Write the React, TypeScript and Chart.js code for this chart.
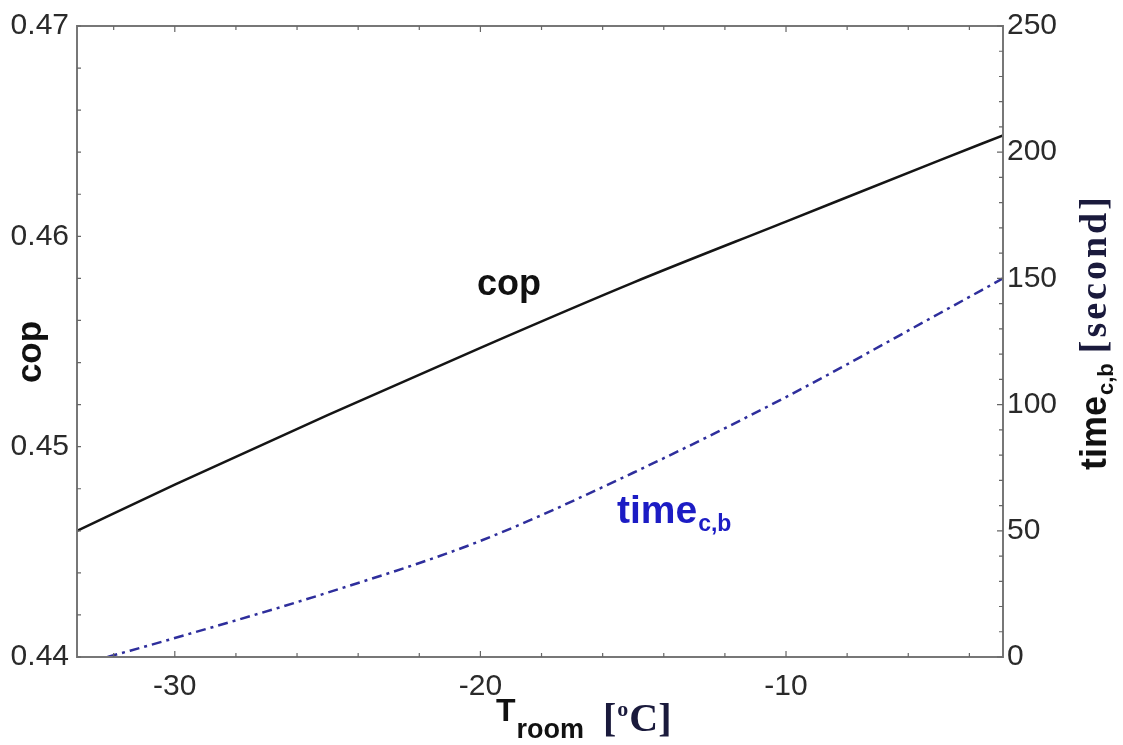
import React, { useEffect, useRef } from "react";
import { Chart, registerables } from "chart.js";

Chart.register(...registerables);

// ---- data ----
const copTemps = [-33.2, -30, -25, -20, -15, -10, -5, -2.9];
const copValues = [0.446, 0.4482, 0.4515, 0.4547, 0.4578, 0.4607, 0.4636, 0.4648];
const timeTemps = [-32.2, -30, -25, -20, -15, -10, -5, -2.9];
const timeValues = [0, 7.5, 25.5, 46, 73, 103, 136, 150];
const xTickValues = [-30, -20, -10];
const copTickValues = [0.44, 0.45, 0.46, 0.47];
const timeTickValues = [0, 50, 100, 150, 200, 250];

const X_MIN = -33.2;
const X_MAX = -2.9;

const SANS = '"Liberation Sans", Arial, sans-serif';
const SERIF = '"Liberation Serif", "Times New Roman", serif';

function range(a: number, b: number, step: number): number[] {
  const out: number[] = [];
  const n = Math.round((b - a) / step);
  for (let i = 0; i <= n; i++) out.push(a + i * step);
  return out;
}

const framePlugin = {
  id: "frameAndTitles",
  afterDatasetsDraw(chart: any) {
    const { ctx, chartArea: ca, scales } = chart;
    const sx = scales.x, sy = scales.y, sy2 = scales.y2;
    ctx.save();
    // frame
    ctx.strokeStyle = "#777";
    ctx.lineWidth = 2;
    ctx.strokeRect(ca.left, ca.top, ca.right - ca.left, ca.bottom - ca.top);
    // ticks
    ctx.lineWidth = 1.2;
    ctx.strokeStyle = "#666";
    ctx.beginPath();
    for (const v of range(-32, -4, 2)) {
      const px = sx.getPixelForValue(v);
      const len = v % 10 === 0 ? 6 : 4;
      ctx.moveTo(px, ca.bottom);
      ctx.lineTo(px, ca.bottom - len);
      ctx.moveTo(px, ca.top);
      ctx.lineTo(px, ca.top + len);
    }
    for (const v of range(0.44, 0.47, 0.002)) {
      const py = sy.getPixelForValue(v);
      ctx.moveTo(ca.left, py);
      ctx.lineTo(ca.left + 4, py);
    }
    for (const v of range(0, 250, 10)) {
      const py = sy2.getPixelForValue(v);
      const len = v % 50 === 0 ? 6 : 4;
      ctx.moveTo(ca.right, py);
      ctx.lineTo(ca.right - len, py);
    }
    ctx.stroke();

    // in-plot labels
    ctx.textBaseline = "alphabetic";
    ctx.textAlign = "left";
    ctx.fillStyle = "#111";
    ctx.font = `bold 36px ${SANS}`;
    ctx.fillText("cop", 477, 295);

    ctx.fillStyle = "#1c1cc4";
    ctx.font = `bold 39px ${SANS}`;
    ctx.fillText("time", 617, 523);
    let w = ctx.measureText("time").width;
    ctx.font = `bold 23px ${SANS}`;
    ctx.fillText("c,b", 617 + w + 1, 531);

    // left axis title
    ctx.save();
    ctx.translate(41, 352);
    ctx.rotate(-Math.PI / 2);
    ctx.fillStyle = "#111";
    ctx.font = `bold 35px ${SANS}`;
    ctx.textAlign = "center";
    ctx.fillText("cop", 0, 0);
    ctx.restore();

    // right axis title
    ctx.save();
    ctx.translate(1106, 470);
    ctx.rotate(-Math.PI / 2);
    ctx.textAlign = "left";
    ctx.fillStyle = "#111";
    ctx.font = `bold 36px ${SANS}`;
    ctx.fillText("time", 0, 0);
    let x = ctx.measureText("time").width + 1;
    ctx.font = `bold 22px ${SANS}`;
    ctx.fillText("c,b", x, 7);
    x += ctx.measureText("c,b").width + 10;
    ctx.fillStyle = "#1a1a3c";
    ctx.font = `bold 38px ${SERIF}`;
    for (const ch of "[second]") {
      ctx.fillText(ch, x, 0);
      x += ctx.measureText(ch).width + 3;
    }
    ctx.restore();

    // x axis title
    ctx.fillStyle = "#111";
    ctx.font = `bold 32px ${SANS}`;
    ctx.fillText("T", 496, 721);
    w = ctx.measureText("T").width;
    ctx.font = `bold 27px ${SANS}`;
    ctx.fillText("room", 496 + w + 1, 738);
    ctx.fillStyle = "#1a1a3c";
    ctx.font = `bold 40px ${SERIF}`;
    ctx.fillText("[", 603, 731);
    let bx = 603 + ctx.measureText("[").width;
    ctx.font = `bold 22px ${SERIF}`;
    ctx.fillText("o", bx + 1, 716);
    bx += ctx.measureText("o").width + 2;
    ctx.font = `bold 40px ${SERIF}`;
    ctx.fillText("C]", bx, 731);

    ctx.restore();
  },
};

export default function App() {
  const ref = useRef<HTMLCanvasElement | null>(null);

  useEffect(() => {
    if (!ref.current) return;
    const tickFont = { family: SANS, size: 30 };
    const chart = new Chart(ref.current, {
      type: "line",
      data: {
        datasets: [
          {
            label: "cop",
            data: copTemps.map((t, i) => ({ x: t, y: copValues[i] })),
            borderColor: "#151515",
            borderWidth: 2.5,
            pointRadius: 0,
            cubicInterpolationMode: "monotone",
            yAxisID: "y",
          },
          {
            label: "time",
            data: timeTemps.map((t, i) => ({ x: t, y: timeValues[i] })),
            borderColor: "#2e2e9c",
            borderWidth: 2.5,
            borderDash: [10, 5, 3, 5],
            pointRadius: 0,
            cubicInterpolationMode: "monotone",
            yAxisID: "y2",
          },
        ],
      },
      options: {
        animation: false,
        responsive: false,
        devicePixelRatio: 1,
        layout: { padding: { top: 22, left: 0, right: 0, bottom: 0 } },
        plugins: {
          legend: { display: false },
          tooltip: { enabled: false },
          title: { display: false },
        },
        scales: {
          x: {
            type: "linear",
            min: X_MIN,
            max: X_MAX,
            grid: { display: false, drawTicks: false },
            border: { display: false },
            afterBuildTicks: (s: any) => {
              s.ticks = xTickValues.map((v) => ({ value: v }));
            },
            afterFit: (s: any) => {
              s.height = 88;
            },
            ticks: {
              font: tickFont,
              color: "#2a2a2a",
              padding: 12,
              maxRotation: 0,
              autoSkip: false,
              callback: (v: any) => String(v),
            },
          },
          y: {
            type: "linear",
            position: "left",
            min: 0.44,
            max: 0.47,
            grid: { display: false, drawTicks: false },
            border: { display: false },
            afterBuildTicks: (s: any) => {
              s.ticks = copTickValues.map((v) => ({ value: v }));
            },
            afterFit: (s: any) => {
              s.width = 77;
            },
            ticks: {
              font: tickFont,
              color: "#2a2a2a",
              padding: 8,
              autoSkip: false,
              callback: (v: any) => Number(v).toFixed(2),
            },
          },
          y2: {
            type: "linear",
            position: "right",
            min: 0,
            max: 250,
            grid: { display: false, drawTicks: false },
            border: { display: false },
            afterBuildTicks: (s: any) => {
              s.ticks = timeTickValues.map((v) => ({ value: v }));
            },
            afterFit: (s: any) => {
              s.width = 120;
            },
            ticks: {
              font: tickFont,
              color: "#2a2a2a",
              padding: 4,
              autoSkip: false,
              callback: (v: any) => String(v),
            },
          },
        },
      },
      plugins: [framePlugin],
    } as any);
    return () => chart.destroy();
  }, []);

  return (
    <div style={{ position: "absolute", left: 0, top: 0, width: 1123, height: 745, background: "#fff" }}>
      <canvas ref={ref} width={1123} height={745} style={{ width: 1123, height: 745, display: "block" }} />
    </div>
  );
}
